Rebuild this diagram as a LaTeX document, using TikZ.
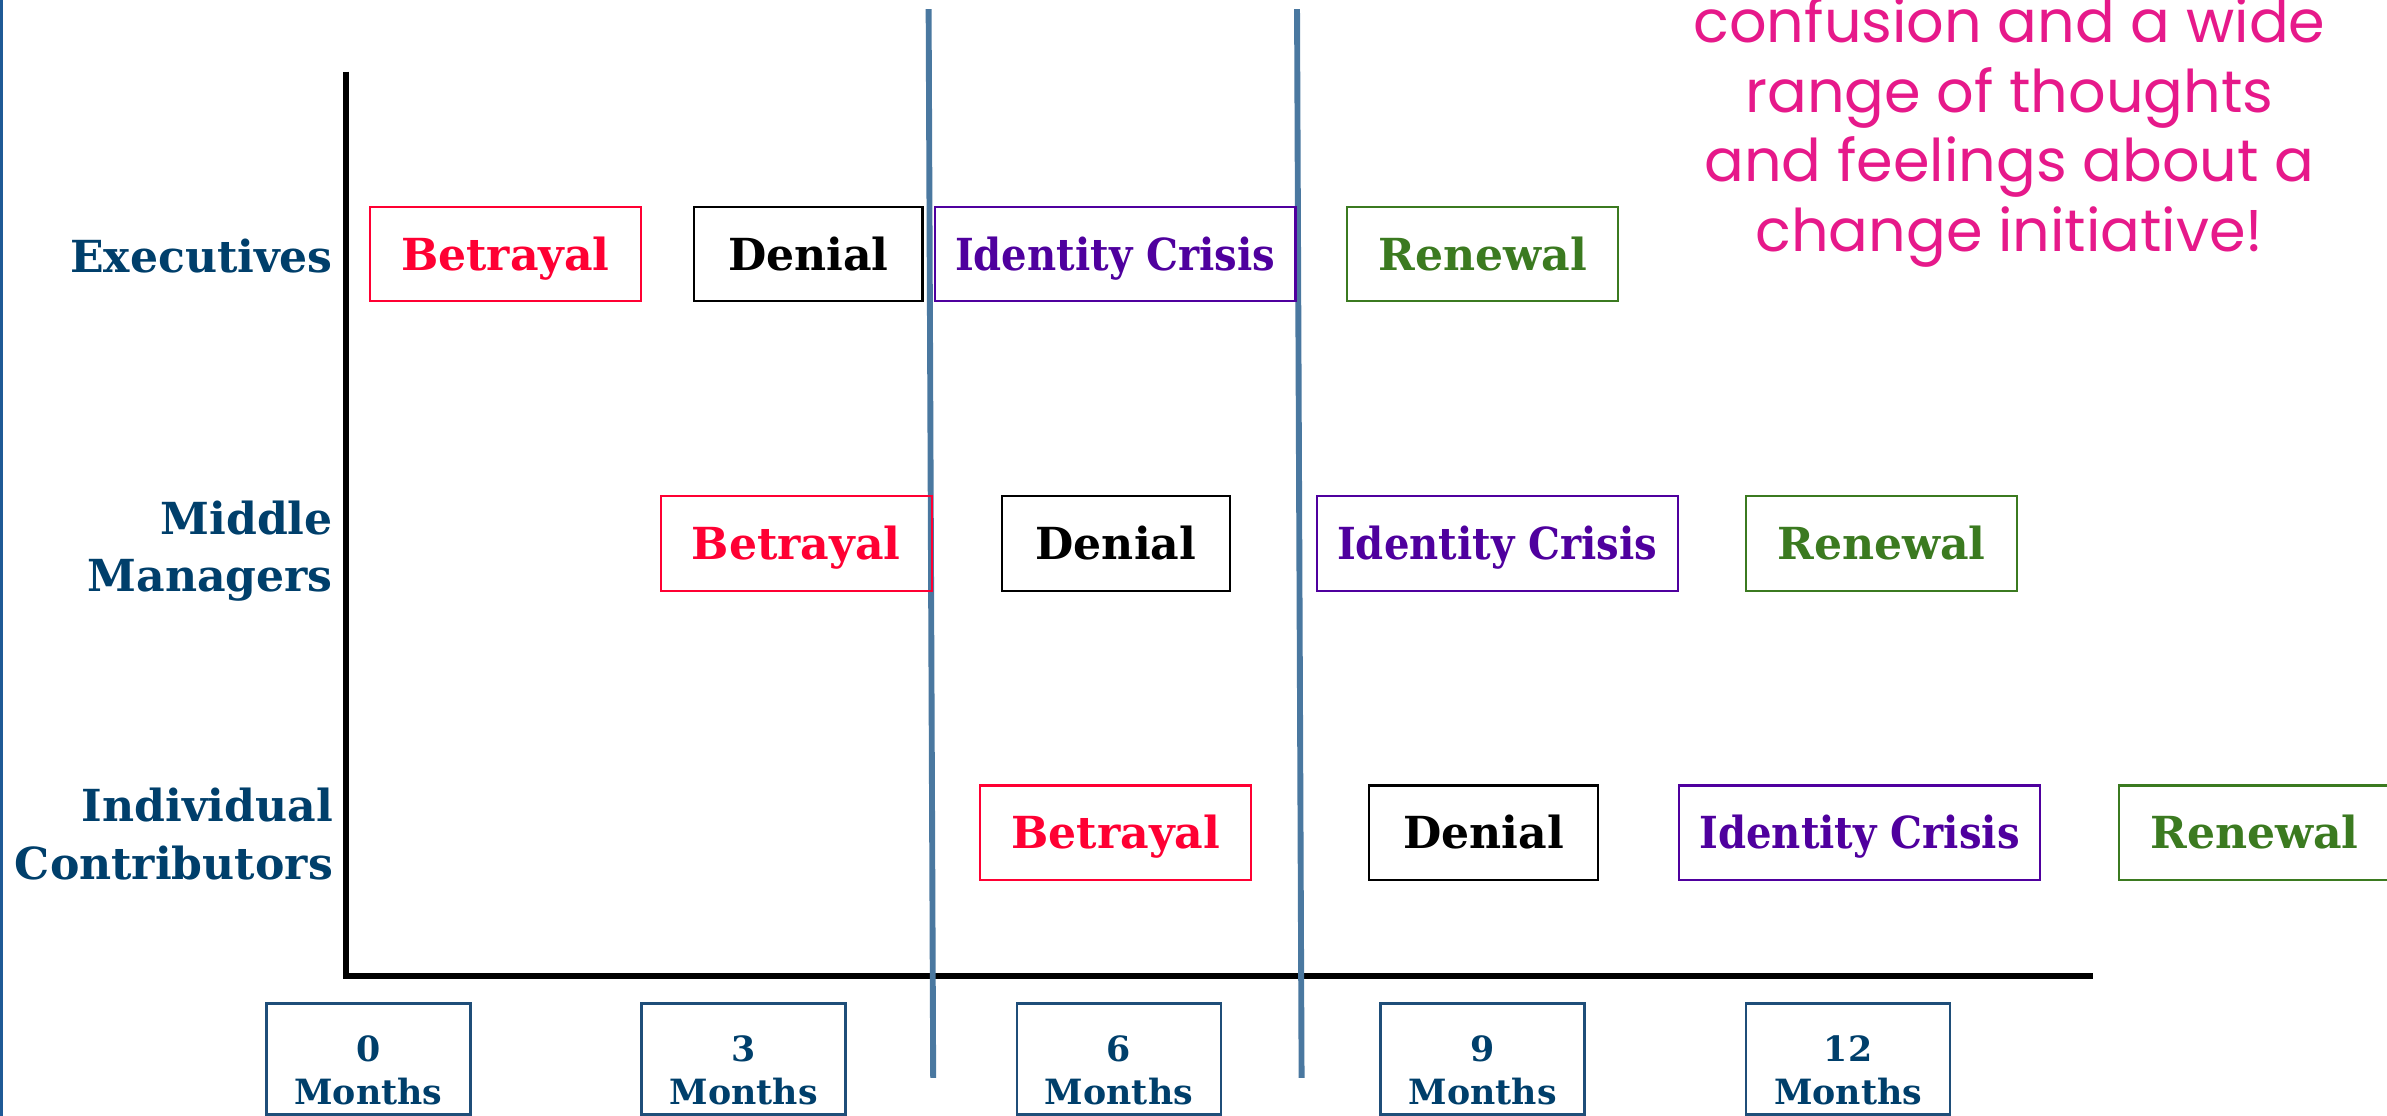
\documentclass[tikz,border=0pt]{standalone}
\usepackage{fontspec}
\setmainfont{DejaVu Serif}
\newfontfamily\narrowserif[FakeStretch=0.91]{DejaVu Serif}
\newfontfamily\notefont{Poppins}
\definecolor{labelblue}{HTML}{003F6B}
\definecolor{betrayred}{HTML}{FF0033}
\definecolor{crisispurple}{HTML}{4F009E}
\definecolor{renewgreen}{HTML}{3B7A20}
\definecolor{phaseblue}{HTML}{4A78A0}
\definecolor{edgeblue}{HTML}{1F5A96}
\definecolor{monthblue}{HTML}{1F4E79}
\definecolor{notepink}{HTML}{E6198A}

\begin{document}
\begin{tikzpicture}[
  stage/.style={draw, line width=0.8pt, minimum height=1.24cm, inner sep=0pt, text height=11.8pt, text depth=0pt, font=\fontsize{16.5}{20}\selectfont\bfseries},
  betrayal/.style={stage, draw=betrayred, text=betrayred, minimum width=3.56cm},
  denial/.style={stage, draw=black, minimum width=3cm},
  crisis/.style={stage, draw=crisispurple, text=crisispurple, minimum width=4.74cm, font=\narrowserif\fontsize{16.5}{20}\selectfont\bfseries},
  renewal/.style={stage, draw=renewgreen, text=renewgreen, minimum width=3.56cm},
  group/.style={anchor=east, align=right, inner sep=0pt, text=labelblue, font=\fontsize{16.5}{21.5}\selectfont\bfseries},
  monthbox/.style={draw=monthblue, line width=1pt, minimum width=2.68cm, minimum height=1.46cm},
  monthtext/.style={align=center, text=labelblue, font=\fontsize{13}{16}\selectfont\bfseries},
  phase/.style={phaseblue, line width=2.2pt}]
\useasboundingbox (0,0) rectangle (31.36,14.66);
\clip (0,0) rectangle (31.36,14.66);

% page edge
\coordinate (edgetop) at (0.02,14.66);
\coordinate (edgebot) at (0.02,0);
\draw[edgeblue, line width=1.2pt] (edgetop) -- (edgebot);

% axes
\coordinate (ytop) at (4.54,13.72);
\coordinate (orig) at (4.54,1.84);
\coordinate (xend) at (27.5,1.84);
\draw[line width=2.2pt] (ytop) -- (orig) -- (xend);

% phase lines
\coordinate (p1top) at (12.2,14.54);
\coordinate (p1bot) at (12.26,0.5);
\coordinate (p2top) at (17.04,14.54);
\coordinate (p2bot) at (17.1,0.5);
\draw[phase] (p1top) -- (p1bot);
\draw[phase] (p2top) -- (p2bot);

% groups
\node[group] (exec) at (4.38,11.3) {Executives};
\node[group] (mid) at (4.38,7.42) {Middle\\Managers};
\node[group] (indiv) at (4.38,3.7) {Individual\\Contributors};

% Executives
\node[betrayal] (eb) at (6.64,11.32) {Betrayal};
\node[denial] (ed) at (10.62,11.32) {Denial};
\node[crisis] (ei) at (14.65,11.32) {Identity Crisis};
\node[renewal] (er) at (19.48,11.32) {Renewal};

% Middle managers
\node[betrayal] (mb) at (10.46,7.52) {Betrayal};
\node[denial] (md) at (14.66,7.52) {Denial};
\node[crisis] (mi) at (19.67,7.52) {Identity Crisis};
\node[renewal] (mr) at (24.72,7.52) {Renewal};

% Individual contributors
\node[betrayal] (ib) at (14.66,3.72) {Betrayal};
\node[denial] (id) at (19.49,3.72) {Denial};
\node[crisis] (ii) at (24.43,3.72) {Identity Crisis};
\node[renewal] (ir) at (29.62,3.72) {Renewal};

% time scale
\node[monthbox] (m0) at (4.84,0.75) {};
\node[monthtext] (t0) at (4.84,0.6) {0\\Months};
\node[monthbox] (m3) at (9.77,0.75) {};
\node[monthtext] (t3) at (9.77,0.6) {3\\Months};
\node[monthbox] (m6) at (14.7,0.75) {};
\node[monthtext] (t6) at (14.7,0.6) {6\\Months};
\node[monthbox] (m9) at (19.48,0.75) {};
\node[monthtext] (t9) at (19.48,0.6) {9\\Months};
\node[monthbox] (m12) at (24.28,0.75) {};
\node[monthtext] (t12) at (24.28,0.6) {12\\Months};

% note
\node[align=center, text=notepink, font=\notefont\fontsize{22}{26}\selectfont] (note) at (26.4,12.92) {confusion and a wide\\range of thoughts\\and feelings about a\\change initiative!};
\end{tikzpicture}
\end{document}
